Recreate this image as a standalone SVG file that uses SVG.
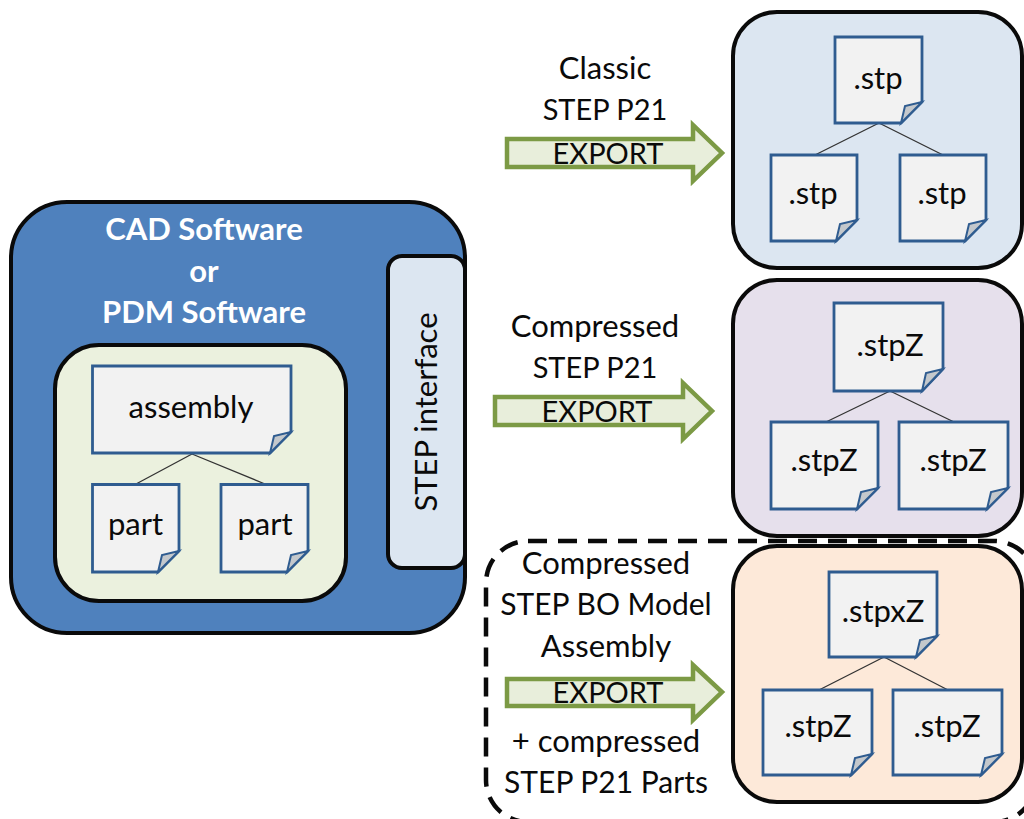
<svg xmlns="http://www.w3.org/2000/svg" width="1024" height="819" viewBox="0 0 1024 819">
<style>
text{font-family:Lato,"Open Sans",sans-serif;fill:#0a0a0a;text-anchor:middle;font-size:31px}
.caps{font-size:29px}
.mixed{font-size:30px}
.card{stroke:#0a0a0a;stroke-width:4}
.doc{fill:#f2f2f2;stroke:#2f5c90;stroke-width:2.8}
.fold{fill:#c4c8cc;stroke:#2f5c90;stroke-width:2}
.link{stroke:#333;stroke-width:1.3;fill:none}
.arrow{fill:#e8eedb;stroke:#7c9a45;stroke-width:4.5}
.white{fill:#fff;font-weight:700}
</style>
<rect width="1024" height="819" fill="#fff"/>
<g id="cad-software">
<rect class="card" x="11" y="202" width="454" height="431" rx="56" fill="#4f81bd"/>
<text class="white" x="204" y="240">CAD Software</text>
<text class="white" x="204" y="282">or</text>
<text class="white" x="204" y="323">PDM Software</text>
</g>
<g id="step-interface">
<rect class="card" x="388" y="256" width="77" height="312" rx="14" fill="#dce6f1"/>
<text transform="translate(437 412) rotate(-90)">STEP interface</text>
</g>
<g id="model-panel"><rect class="card" x="55" y="345" width="291" height="256" rx="44" fill="#ebf1de"/></g>
<g id="card-classic"><rect class="card" x="733" y="12" width="289" height="256" rx="44" fill="#dce6f1"/></g>
<g id="card-compressed"><rect class="card" x="733" y="280" width="289" height="256" rx="44" fill="#e6e0ec"/></g>
<g id="card-bo"><rect class="card" x="733" y="546" width="289" height="256" rx="44" fill="#fde9d9"/></g>
<g id="connectors">
<path class="link" d="M192 454L136 484M192 454L265 484"/>
<path class="link" d="M879 123L815 155M879 123L943 155"/>
<path class="link" d="M890 391L826 422M890 391L954 422"/>
<path class="link" d="M884 657L819 690M884 657L948 690"/>
<rect x="486" y="541" width="550" height="281" rx="42" fill="none" stroke="#0a0a0a" stroke-width="4.500" stroke-dasharray="19 11"/>
</g>
<g id="doc-assembly"><path class="doc" d="M92.500 366H291V432L270 453H92.500Z"/><path class="fold" d="M291 432L274 436L270 453Z"/><text x="191" y="418">assembly</text></g>
<g id="doc-part-1"><path class="doc" d="M92.500 484.500H179V551L158 572H92.500Z"/><path class="fold" d="M179 551L162 555L158 572Z"/><text x="135.500" y="535">part</text></g>
<g id="doc-part-2"><path class="doc" d="M221 484.500H308V551L287 572H221Z"/><path class="fold" d="M308 551L291 555L287 572Z"/><text x="265" y="535">part</text></g>
<g id="doc-stp-top"><path class="doc" d="M835 37H922V102L901 123H835Z"/><path class="fold" d="M922 102L905 106L901 123Z"/><text x="878" y="89">.stp</text></g>
<g id="doc-stp-left"><path class="doc" d="M771 155H857V220L836 241H771Z"/><path class="fold" d="M857 220L840 224L836 241Z"/><text x="813" y="204">.stp</text></g>
<g id="doc-stp-right"><path class="doc" d="M900 155H986V220L965 241H900Z"/><path class="fold" d="M986 220L969 224L965 241Z"/><text x="942" y="204">.stp</text></g>
<g id="doc-stpz-top"><path class="doc" d="M834 303H943V369L922 391H834Z"/><path class="fold" d="M943 369L926 373L922 391Z"/><text x="890" y="356">.stpZ</text></g>
<g id="doc-stpz-left"><path class="doc" d="M771 422H878V488L857 509H771Z"/><path class="fold" d="M878 488L861 492L857 509Z"/><text x="824" y="471">.stpZ</text></g>
<g id="doc-stpz-right"><path class="doc" d="M899 422H1008V488L987 509H899Z"/><path class="fold" d="M1008 488L991 492L987 509Z"/><text x="953" y="471">.stpZ</text></g>
<g id="doc-stpxz-top"><path class="doc" d="M829 572H937V636L916 657H829Z"/><path class="fold" d="M937 636L920 640L916 657Z"/><text x="883" y="622">.stpxZ</text></g>
<g id="doc-stpz-left-2"><path class="doc" d="M763 690H872V754L851 775H763Z"/><path class="fold" d="M872 754L855 758L851 775Z"/><text x="818" y="737">.stpZ</text></g>
<g id="doc-stpz-right-2"><path class="doc" d="M893 690H1002V754L981 775H893Z"/><path class="fold" d="M1002 754L985 758L981 775Z"/><text x="947" y="737">.stpZ</text></g>
<g id="export-classic">
<path class="arrow" d="M507 139H693V125L722 153L693 181V167H507Z"/>
<text x="605" y="79">Classic</text><text class="caps" x="605" y="120">STEP P21</text><text class="caps" x="608" y="164">EXPORT</text>
</g>
<g id="export-compressed">
<path class="arrow" d="M495 397H683V383L712 411L683 439V425H495Z"/>
<text x="595" y="337">Compressed</text><text class="caps" x="595" y="378">STEP P21</text><text class="caps" x="597" y="422">EXPORT</text>
</g>
<g id="export-bo">
<path class="arrow" d="M507 679H693V665L722 692L693 720V706H507Z"/>
<text x="606" y="574">Compressed</text><text class="mixed" x="606" y="615">STEP BO Model</text><text x="606" y="657">Assembly</text><text class="caps" x="608" y="703">EXPORT</text><text x="606" y="752">+ compressed</text><text class="mixed" x="606" y="793">STEP P21 Parts</text>
</g>
</svg>
